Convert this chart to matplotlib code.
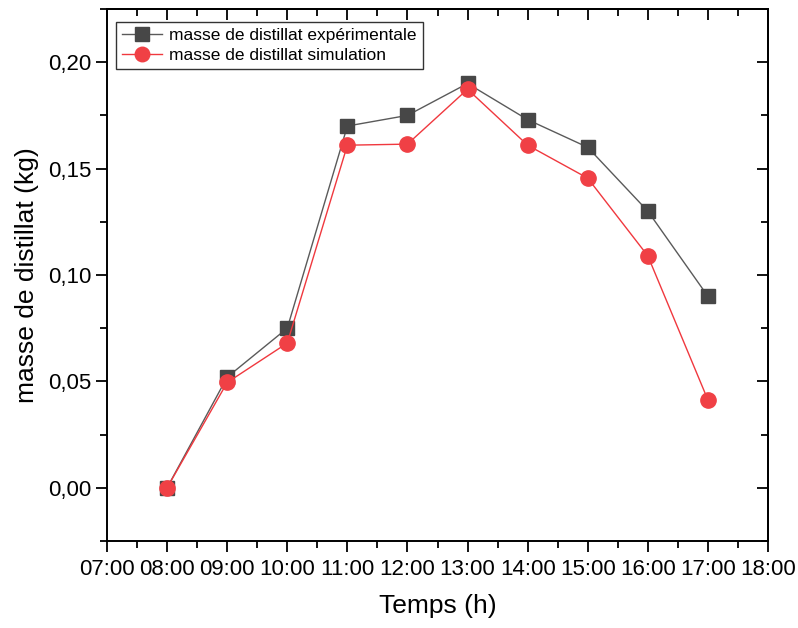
import matplotlib.pyplot as plt
from matplotlib.ticker import FuncFormatter, MultipleLocator

plt.rcParams["font.family"] = ["Liberation Sans", "DejaVu Sans"]

# Heures de mesure
temps = ["08:00", "09:00", "10:00", "11:00", "12:00",
         "13:00", "14:00", "15:00", "16:00", "17:00"]
# Masse de distillat (kg)
masse_exp = [0.0, 0.052, 0.075, 0.170, 0.175, 0.190, 0.173, 0.160, 0.130, 0.090]
masse_sim = [0.0, 0.0495, 0.068, 0.161, 0.1615, 0.1873, 0.161, 0.1455, 0.109, 0.0413]
tick_heures = ["07:00", "08:00", "09:00", "10:00", "11:00", "12:00",
               "13:00", "14:00", "15:00", "16:00", "17:00", "18:00"]


def to_hours(s):
    h, m = s.split(":")
    return int(h) + int(m) / 60


x = [to_hours(t) for t in temps]
xt = [to_hours(t) for t in tick_heures]

fig = plt.figure(figsize=(7.98, 6.28), dpi=100)
ax = fig.add_axes([107 / 798, 1 - 541 / 628, 661 / 798, 532 / 628])

ax.plot(x, masse_exp, color="#5a5a5a", lw=1, marker="s", ms=10,
        mfc="#474747", mec="#474747", label="masse de distillat expérimentale")
ax.plot(x, masse_sim, color="#f0383e", lw=1, marker="o", ms=11,
        mfc="#f04045", mec="#f04045", label="masse de distillat simulation")

ax.set_xlim(7, 18)
ax.set_ylim(-0.025, 0.225)
ax.set_xticks(xt)
ax.set_xticklabels(tick_heures)
ax.xaxis.set_minor_locator(MultipleLocator(0.5))
ax.set_yticks([0, 0.05, 0.10, 0.15, 0.20])
ax.yaxis.set_minor_locator(MultipleLocator(0.025))
ax.yaxis.set_major_formatter(FuncFormatter(lambda v, p: f"{v:.2f}".replace(".", ",")))

ax.tick_params(which="major", direction="out", length=8, width=1.3, labelsize=16)
ax.tick_params(which="minor", direction="out", length=5, width=1.3)
ax.tick_params(axis="x", pad=5)

for sp in ax.spines.values():
    sp.set_linewidth(1.4)

# axes du haut et de droite, graduations vers l'intérieur
top = ax.secondary_xaxis("top")
top.set_xticks(xt)
top.xaxis.set_minor_locator(MultipleLocator(0.5))
top.tick_params(which="major", direction="in", length=8, width=1.3, labeltop=False)
top.tick_params(which="minor", direction="in", length=5, width=1.3)
right = ax.secondary_yaxis("right")
right.set_yticks([0, 0.05, 0.10, 0.15, 0.20])
right.yaxis.set_minor_locator(MultipleLocator(0.025))
right.tick_params(which="major", direction="in", length=8, width=1.3, labelright=False)
right.tick_params(which="minor", direction="in", length=5, width=1.3)
top.spines["top"].set_linewidth(1.4)
right.spines["right"].set_linewidth(1.4)

ax.set_xlabel("Temps (h)", fontsize=19, labelpad=10)
ax.set_ylabel("masse de distillat (kg)", fontsize=19, labelpad=6)

leg = ax.legend(loc="upper left", fontsize=12.5, frameon=True, fancybox=False,
                edgecolor="black", handlelength=2.3, handletextpad=0.4,
                borderpad=0.35, labelspacing=0.25, markerscale=0.95,
                borderaxespad=0, bbox_to_anchor=(0.0136, 0.9756))
leg.get_frame().set_linewidth(1)

fig.savefig("out.png", dpi=100)
